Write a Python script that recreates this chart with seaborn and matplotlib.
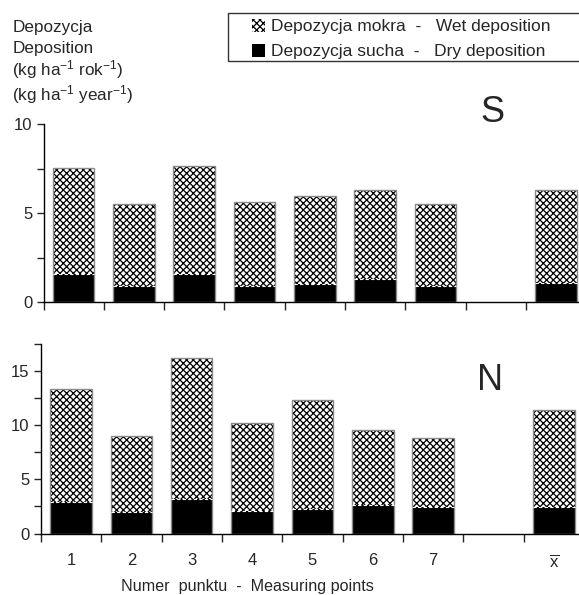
import numpy as np
import matplotlib
matplotlib.use("Agg")
import matplotlib.pyplot as plt
from matplotlib.patches import Patch, Rectangle
import seaborn as sns

# Measuring points (blank slot before the mean column)
POINTS = ["1", "2", "3", "4", "5", "6", "7", "x̄"]
ORDER = ["1", "2", "3", "4", "5", "6", "7", "", "x̄"]
TICK_LABELS = ["1", "2", "3", "4", "5", "6", "7", "", r"$\overline{\mathrm{x}}$"]

# Sulphur deposition (kg/ha/year)
S_DRY = [1.57, 0.90, 1.61, 0.90, 1.05, 1.29, 0.90, 1.10]
S_WET = [5.98, 4.62, 6.01, 4.70, 4.92, 5.00, 4.59, 5.19]

# Nitrogen deposition (kg/ha/year)
N_DRY = [2.94, 2.00, 3.22, 2.12, 2.30, 2.67, 2.42, 2.45]
N_WET = [10.40, 7.00, 13.03, 8.12, 10.00, 6.87, 6.38, 8.93]

W, H = 579, 595
HATCH = "xxxxx"
BAR_W = 0.69


def setup_style():
    sns.set_style("ticks")
    plt.rcParams["font.family"] = ["Liberation Sans", "DejaVu Sans"]
    plt.rcParams["mathtext.fontset"] = "custom"
    plt.rcParams["mathtext.rm"] = "Liberation Sans"
    plt.rcParams["mathtext.it"] = "Liberation Sans"
    plt.rcParams["font.size"] = 12
    plt.rcParams["hatch.linewidth"] = 0.9
    plt.rcParams["axes.edgecolor"] = "black"


def draw_panel(ax, dry, wet, ymax, letter, letter_xy):
    total = np.array(dry) + np.array(wet)
    kw = dict(x=POINTS, order=ORDER, width=BAR_W, errorbar=None, saturation=1, ax=ax)
    # wet part as a hatched bar for the whole height, dry part painted over it
    sns.barplot(y=total, color="white", edgecolor="black", hatch=HATCH, linewidth=0, **kw)
    sns.barplot(y=dry, color="black", linewidth=0, **kw)
    sns.barplot(y=total, fill=False, color="#8a8a8a", linewidth=1, **kw)
    xs = np.array([ORDER.index(p) for p in POINTS])
    ax.hlines(dry, xs - BAR_W / 2, xs + BAR_W / 2,
              colors="white", linestyles=(0, (3, 2)), linewidth=0.8)

    ax.set_xlim(-0.5, len(ORDER) - 0.5)
    ax.set_ylim(0, ymax)
    ax.set_yticks(np.arange(0, ymax + 0.1, 5))
    ax.set_yticks(np.arange(2.5, ymax + 0.1, 5), minor=True)
    ax.set_xticks(range(len(ORDER)))
    ax.set_xticks(np.arange(-0.5, len(ORDER)), minor=True)
    ax.tick_params(axis="y", which="both", length=5, width=1, pad=3, labelsize=12)
    ax.tick_params(axis="x", which="major", length=0, pad=14, labelsize=12)
    ax.tick_params(axis="x", which="minor", length=6, width=1)
    ax.set_xlabel("")
    ax.set_ylabel("")
    sns.despine(ax=ax)
    for sp in ax.spines.values():
        sp.set_linewidth(1)
    ax.text(letter_xy[0], letter_xy[1], letter, fontsize=26,
            ha="center", va="center", transform=ax.figure.transFigure)


def main():
    setup_style()
    fig = plt.figure(figsize=(W / 100, H / 100), dpi=100)

    ax_s = fig.add_axes([43.5 / W, 1 - 302.3 / H, 9 * 60.3 / W, 178.3 / H])
    ax_n = fig.add_axes([40.8 / W, 1 - 533.5 / H, 9 * 60.35 / W, 189.5 / H])

    draw_panel(ax_s, S_DRY, S_WET, 10, "S", (492 / W, 1 - 112 / H))
    draw_panel(ax_n, N_DRY, N_WET, 17.5, "N", (490 / W, 1 - 380 / H))

    ax_s.set_xticklabels([])
    ax_n.set_xticklabels(TICK_LABELS)

    # y-axis caption, top left
    for txt, base in [("Depozycja", 32), ("Deposition", 52.5),
                      (r"(kg ha$^{-1}$ rok$^{-1}$)", 75.5),
                      (r"(kg ha$^{-1}$ year$^{-1}$)", 100)]:
        fig.text(12.5 / W, 1 - base / H, txt, fontsize=12.3, va="baseline", ha="left")

    fig.text(247 / W, 1 - 587 / H, "Numer  punktu  -  Measuring points",
             fontsize=11.6, ha="center", va="center")

    # legend with a frame running off the right edge
    fig.patches.append(Rectangle((227.7 / W, 1 - 61 / H), (600 - 227.7) / W, (61 - 13.3) / H,
                                 transform=fig.transFigure, fill=False,
                                 edgecolor="#333333", linewidth=1))
    handles = [Patch(facecolor="white", edgecolor="black", hatch=HATCH, linewidth=0),
               Patch(facecolor="black", edgecolor="black", linewidth=0)]
    labels = ["Depozycja mokra  -   Wet deposition",
              "Depozycja sucha  -   Dry deposition"]
    fig.legend(handles, labels, loc="upper left", bbox_to_anchor=(252 / W, 1 - 19 / H),
               frameon=False, borderpad=0, borderaxespad=0, handlelength=0.75,
               handleheight=0.75, handletextpad=0.35, labelspacing=0.55, fontsize=12.5)

    fig.savefig("out.png", dpi=100)
    plt.close(fig)


if __name__ == "__main__":
    main()
